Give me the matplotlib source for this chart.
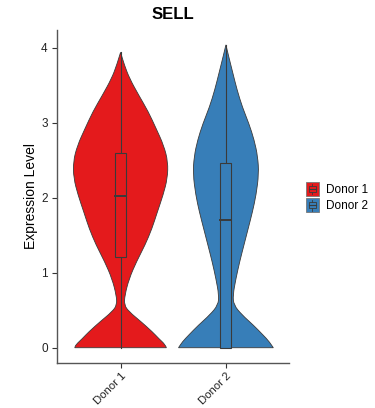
import numpy as np
import matplotlib
matplotlib.use('Agg')
import matplotlib.pyplot as plt
from matplotlib.path import Path
from matplotlib.patches import PathPatch, Patch, Rectangle
from matplotlib.legend_handler import HandlerBase
from matplotlib.lines import Line2D

plt.rcParams['font.family'] = ['Liberation Sans', 'DejaVu Sans']

# groups
donors = ['Donor 1', 'Donor 2']
colors = ['#E41A1C', '#377EB8']

# violin outlines: expression level / relative density
d1_level = [0.0, 0.04, 0.12, 0.21, 0.35, 0.48, 0.57, 0.70, 0.92, 1.15, 1.37, 1.59,
            1.81, 2.04, 2.26, 2.48, 2.70, 2.92, 3.15, 3.37, 3.59, 3.77, 3.94]
d1_dens = [0.43, 0.42, 0.36, 0.30, 0.19, 0.08, 0.034, 0.04, 0.08, 0.15, 0.23, 0.295,
           0.345, 0.40, 0.44, 0.445, 0.405, 0.335, 0.26, 0.17, 0.085, 0.036, 0.0]

d2_level = [0.0, 0.08, 0.17, 0.30, 0.44, 0.57, 0.70, 0.92, 1.15, 1.37, 1.59, 1.81,
            2.04, 2.32, 2.55, 2.77, 2.99, 3.21, 3.44, 3.66, 3.88, 4.04]
d2_dens = [0.447, 0.41, 0.35, 0.26, 0.15, 0.074, 0.066, 0.094, 0.13, 0.17, 0.21, 0.25,
           0.285, 0.31, 0.30, 0.267, 0.217, 0.155, 0.105, 0.066, 0.027, 0.0]

# boxplot stats: lower whisker, Q1, median, Q3, upper whisker
box_stats = [
    [0.0, 1.21, 2.03, 2.60, 3.94],
    [0.0, 0.0, 1.70, 2.46, 4.04],
]

levels = [d1_level, d2_level]
dens = [d1_dens, d2_dens]
edge = '#3a3a3a'


def smooth_side(xs, ys):
    # quadratic bezier through the midpoints, keeps the outline rounded
    verts = [(xs[0], ys[0])]
    codes = [Path.LINETO]
    for k in range(1, len(xs) - 1):
        mx = 0.5 * (xs[k] + xs[k + 1])
        my = 0.5 * (ys[k] + ys[k + 1])
        verts += [(xs[k], ys[k]), (mx, my)]
        codes += [Path.CURVE3, Path.CURVE3]
    verts.append((xs[-1], ys[-1]))
    codes.append(Path.LINETO)
    return verts, codes


def violin_path(pos, y, w):
    rv, rc = smooth_side(pos + w, y)
    lv, lc = smooth_side((pos - w)[::-1], y[::-1])
    verts = rv + lv + [rv[0]]
    codes = [Path.MOVETO] + rc[1:] + lc + [Path.CLOSEPOLY]
    return Path(verts, codes)


class BoxKey(HandlerBase):
    def create_artists(self, legend, orig, xd, yd, width, height, fontsize, trans):
        fc = orig.get_facecolor()
        arts = [Rectangle((-xd, -yd), width, height, facecolor=fc, edgecolor='#777777',
                          lw=0.6, transform=trans)]
        cx = -xd + width / 2
        arts.append(Rectangle((cx - width * 0.3, -yd + height * 0.25), width * 0.6, height * 0.5,
                              facecolor=fc, edgecolor=edge, lw=0.6, transform=trans))
        arts.append(Line2D([cx - width * 0.3, cx + width * 0.3], [-yd + height * 0.5] * 2,
                           color=edge, lw=0.8, transform=trans))
        arts.append(Line2D([cx, cx], [-yd + height * 0.1, -yd + height * 0.25],
                           color=edge, lw=0.6, transform=trans))
        arts.append(Line2D([cx, cx], [-yd + height * 0.75, -yd + height * 0.9],
                           color=edge, lw=0.6, transform=trans))
        return arts


fig = plt.figure(figsize=(3.75, 4.08), dpi=100)
ax = fig.add_axes([0.153, 0.111, 0.618, 0.815])

for i in range(2):
    pos = i + 1
    y = np.array(levels[i])
    w = np.array(dens[i])
    w = w / w.max() * 0.45
    ax.add_patch(PathPatch(violin_path(pos, y, w), facecolor=colors[i], edgecolor=edge,
                           lw=0.6, zorder=2))
    lw_, q1, med, q3, uw = box_stats[i]
    bw = 0.052
    ax.plot([pos, pos], [q3, uw], color=edge, lw=0.8, zorder=3)
    ax.plot([pos, pos], [lw_, q1], color=edge, lw=0.8, zorder=3)
    ax.add_patch(Rectangle((pos - bw, q1), 2 * bw, q3 - q1, facecolor=colors[i],
                           edgecolor=edge, lw=0.8, zorder=3))
    ax.plot([pos - bw, pos + bw], [med, med], color=edge, lw=1.4, zorder=4)

ax.set_xlim(0.4, 2.6)
ax.set_ylim(-0.2, 4.236)
ax.set_xticks([1, 2])
ax.set_xticklabels(donors, rotation=45, ha='right', rotation_mode='anchor', fontsize=8.2)
ax.set_yticks([0, 1, 2, 3, 4])
ax.set_yticklabels(['0', '1', '2', '3', '4'], fontsize=8.5)
ax.tick_params(colors='#333333', length=3.5, width=0.8, labelcolor='#222222')
ax.tick_params(axis='x', pad=2)
for s in ['top', 'right']:
    ax.spines[s].set_visible(False)
for s in ['left', 'bottom']:
    ax.spines[s].set_color('#555555')
    ax.spines[s].set_linewidth(1.0)

ax.set_ylabel('Expression Level', fontsize=10, labelpad=2)
ax.set_title('SELL', fontsize=12, fontweight='bold', pad=8)

handles = [Patch(facecolor=c, edgecolor='#555555', lw=0.8) for c in colors]
fig.legend(handles, donors, loc='center left', bbox_to_anchor=(0.8, 0.517), frameon=False,
           fontsize=8.5, handlelength=1.1, handleheight=1.4, handletextpad=0.6,
           labelspacing=0.2, borderpad=0, handler_map={Patch: BoxKey()})

fig.savefig('out.png', dpi=100)
